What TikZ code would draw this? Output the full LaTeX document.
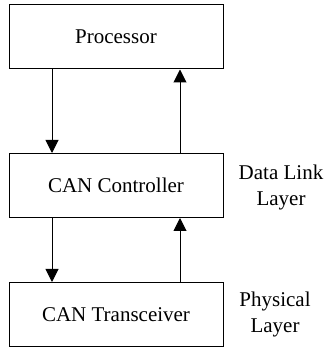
\documentclass[tikz,border=0pt]{standalone}
\usepackage{fontspec}
\setmainfont{Liberation Serif}
\usepackage{tikz}
\usetikzlibrary{arrows.meta, positioning}

\begin{document}
\begin{tikzpicture}[x=1pt, y=1pt,
  box/.style={draw, line width=1pt, minimum width=214pt, minimum height=64pt, inner sep=0pt},
  arr/.style={-{Triangle[length=13pt, width=13pt]}, line width=1pt},
  layertxt/.style={align=center, font=\fontsize{21}{26}\selectfont}]
\useasboundingbox (0,0) rectangle (328,348);
\tikzset{every node/.append style={font=\fontsize{21}{26}\selectfont}}
% the three blocks
\node[box] (proc) at (116,311) {Processor};
\node[box] (ctrl) at (116,162.5) {CAN Controller};
\node[box] (trans) at (116,33.5) {CAN Transceiver};
% columns of the arrows
\coordinate (lx) at (52,0);
\coordinate (rx) at (180,0);
\draw[arr] (lx |- proc.south) -- (lx |- ctrl.north);
\draw[arr] (rx |- ctrl.north) -- (rx |- proc.south);
\draw[arr] (lx |- ctrl.south) -- (lx |- trans.north);
\draw[arr] (rx |- trans.north) -- (rx |- ctrl.south);
% layer names
\node[layertxt] (dll) at (281,161) {Data Link\\Layer};
\node[layertxt] (phy) at (275,34) {Physical\\Layer};
\end{tikzpicture}
\end{document}
